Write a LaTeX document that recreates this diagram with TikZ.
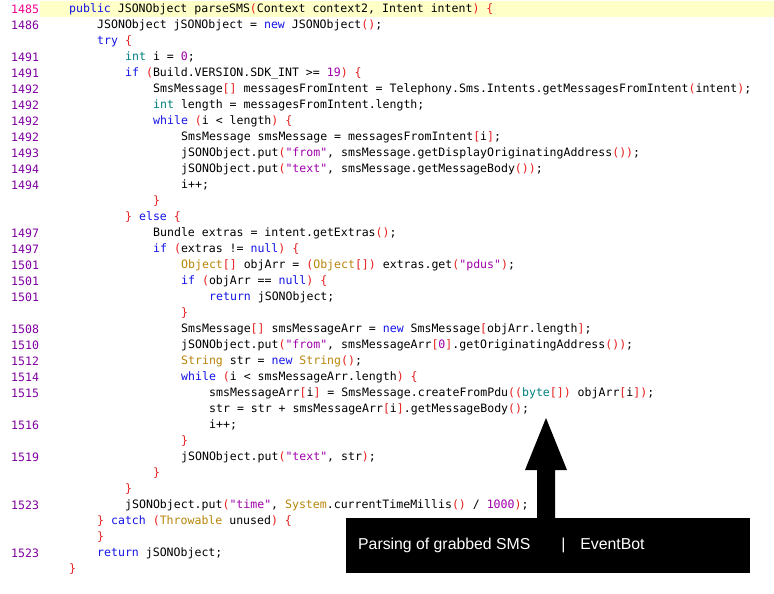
\documentclass[tikz,border=0pt]{standalone}
\usepackage{fontspec}
\newfontfamily\codefont{DejaVu Sans Mono}[Scale=1]
\setmainfont{Liberation Sans}
\definecolor{kw}{RGB}{20,20,230}
\definecolor{ty}{RGB}{0,128,128}
\definecolor{gd}{RGB}{184,134,11}
\definecolor{st}{RGB}{160,0,170}
\definecolor{pr}{RGB}{230,30,30}
\definecolor{ln}{RGB}{128,0,160}
\definecolor{hl}{RGB}{255,255,200}
\newcommand\K[1]{\textcolor{kw}{#1}}
\newcommand\T[1]{\textcolor{ty}{#1}}
\newcommand\G[1]{\textcolor{gd}{#1}}
\newcommand\Sq[1]{\textcolor{st}{#1}}
\newcommand\R[1]{\textcolor{pr}{#1}}
\tikzset{code/.style={anchor=west,inner sep=0pt,font=\codefont\fontsize{11.55}{14}\selectfont,text=black},
lnum/.style={code,text=ln}}
\begin{document}
\begin{tikzpicture}[x=1pt,y=1pt]
\useasboundingbox (0,0) rectangle (774,-594);
\fill[white] (0,0) rectangle (774,-594);
\fill[hl] (40,-1) rectangle (774,-17);
\def\L#1#2#3#4{\node[lnum] (n#1) at (11,{-9-16*#1}) {#2};\node[code] (c#1) at ({69+28*(#3-1)},{-9-16*#1}) {#4};}
\L{0}{\textcolor{magenta}{1485}}{1}{\K{public} JSONObject parseSMS\R{(}Context context2, Intent intent\R{)} \R{\{}}
\L{1}{1486}{2}{JSONObject jSONObject = \K{new} JSONObject\R{()};}
\L{2}{}{2}{\K{try} \R{\{}}
\L{3}{1491}{3}{\T{int} i = \Sq{0};}
\L{4}{1491}{3}{\K{if} \R{(}Build.VERSION.SDK\_INT >= \Sq{19}\R{)} \R{\{}}
\L{5}{1492}{4}{SmsMessage\R{[]} messagesFromIntent = Telephony.Sms.Intents.getMessagesFromIntent\R{(}intent\R{)};}
\L{6}{1492}{4}{\T{int} length = messagesFromIntent.length;}
\L{7}{1492}{4}{\K{while} \R{(}i < length\R{)} \R{\{}}
\L{8}{1492}{5}{SmsMessage smsMessage = messagesFromIntent\R{[}i\R{]};}
\L{9}{1493}{5}{jSONObject.put\R{(}\Sq{"from"}, smsMessage.getDisplayOriginatingAddress\R{())};}
\L{10}{1494}{5}{jSONObject.put\R{(}\Sq{"text"}, smsMessage.getMessageBody\R{())};}
\L{11}{1494}{5}{i++;}
\L{12}{}{4}{\R{\}}}
\L{13}{}{3}{\R{\}} \K{else} \R{\{}}
\L{14}{1497}{4}{Bundle extras = intent.getExtras\R{()};}
\L{15}{1497}{4}{\K{if} \R{(}extras != \K{null}\R{)} \R{\{}}
\L{16}{1501}{5}{\G{Object}\R{[]} objArr = \R{(}\G{Object}\R{[])} extras.get\R{(}\Sq{"pdus"}\R{)};}
\L{17}{1501}{5}{\K{if} \R{(}objArr == \K{null}\R{)} \R{\{}}
\L{18}{1501}{6}{\K{return} jSONObject;}
\L{19}{}{5}{\R{\}}}
\L{20}{1508}{5}{SmsMessage\R{[]} smsMessageArr = \K{new} SmsMessage\R{[}objArr.length\R{]};}
\L{21}{1510}{5}{jSONObject.put\R{(}\Sq{"from"}, smsMessageArr\R{[}\Sq{0}\R{]}.getOriginatingAddress\R{())};}
\L{22}{1512}{5}{\G{String} str = \K{new} \G{String}\R{()};}
\L{23}{1514}{5}{\K{while} \R{(}i < smsMessageArr.length\R{)} \R{\{}}
\L{24}{1515}{6}{smsMessageArr\R{[}i\R{]} = SmsMessage.createFromPdu\R{((}\T{byte}\R{[])} objArr\R{[}i\R{])};}
\L{25}{}{6}{str = str + smsMessageArr\R{[}i\R{]}.getMessageBody\R{()};}
\L{26}{1516}{6}{i++;}
\L{27}{}{5}{\R{\}}}
\L{28}{1519}{5}{jSONObject.put\R{(}\Sq{"text"}, str\R{)};}
\L{29}{}{4}{\R{\}}}
\L{30}{}{3}{\R{\}}}
\L{31}{1523}{3}{jSONObject.put\R{(}\Sq{"time"}, \G{System}.currentTimeMillis\R{()} / \Sq{1000}\R{)};}
\L{32}{}{2}{\R{\}} \K{catch} \R{(}\G{Throwable} unused\R{)} \R{\{}}
\L{33}{}{2}{\R{\}}}
\L{34}{1523}{2}{\K{return} jSONObject;}
\L{35}{}{1}{\R{\}}}
\fill[black] (346,-518) rectangle (750,-573);
\node[anchor=west,text=white,inner sep=0pt,font=\fontsize{15.8}{18}\selectfont] (cap) at (358,-545.5) {Parsing of grabbed SMS\hspace{31pt}|\hspace{15pt}EventBot};
\fill[black] (537,-518) -- (537,-470) -- (525,-470) -- (546,-418) -- (567,-470) -- (555,-470) -- (555,-518) -- cycle;
\end{tikzpicture}
\end{document}
